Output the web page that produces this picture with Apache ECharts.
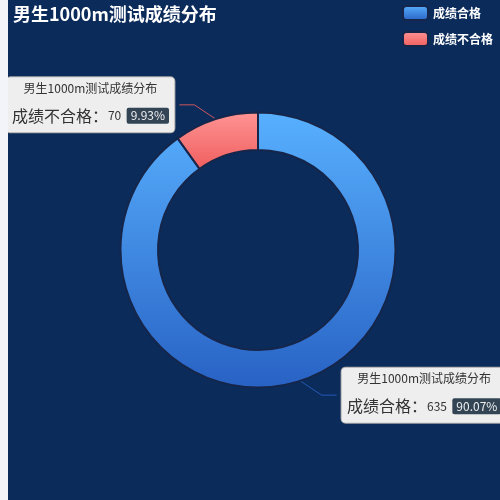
<!DOCTYPE html>
<html>
<head>
<meta charset="utf-8">
<style>
html,body{margin:0;padding:0;background:#f2f4f9;overflow:hidden;}
#chart{position:absolute;left:8px;top:0;width:500px;height:500px;background:#0b2b5b;}
</style>
<script src="https://cdn.jsdelivr.net/npm/echarts@6/dist/echarts.min.js"></script>
</head>
<body>
<div id="chart"></div>
<script>
const titleText = '男生1000m测试成绩分布';
const seriesName = '男生1000m测试成绩分布';
const categories = ['成绩合格', '成绩不合格'];
const values = [635, 70];
const colorStops = [
  ['#58b0ff', '#2862c4'],
  ['#ff9494', '#f05e5e']
];

const chart = echarts.init(document.getElementById('chart'));
const LINE_LEN = 15, LINE_LEN2 = 15, LABEL_GAP = 5, OUTER = 0.55;

const data = categories.map((name, i) => ({
  name: name,
  value: values[i],
  itemStyle: {
    color: new echarts.graphic.LinearGradient(0, 0, 0, 1, [
      { offset: 0, color: colorStops[i][0] },
      { offset: 1, color: colorStops[i][1] }
    ])
  },
  labelLine: { lineStyle: { color: colorStops[i][1], opacity: 0.85 } }
}));

chart.setOption({
  backgroundColor: '#0b2b5b',
  title: {
    text: titleText,
    left: 0,
    top: 0,
    padding: 5,
    textStyle: { color: '#fff', fontSize: 18, fontWeight: 'bold', fontFamily: 'Noto Sans CJK SC' }
  },
  legend: {
    orient: 'vertical',
    right: 10,
    top: 0,
    itemWidth: 25,
    itemHeight: 14,
    itemGap: 10,
    data: categories,
    textStyle: { color: '#fff', fontSize: 12, fontWeight: 'bold', fontFamily: 'Noto Sans CJK SC' }
  },
  series: [{
    name: seriesName,
    type: 'pie',
    radius: ['40%', '55%'],
    center: ['50%', '50%'],
    startAngle: 90,
    avoidLabelOverlap: false,
    itemStyle: { borderColor: '#15264a', borderWidth: 2 },
    labelLine: { length: LINE_LEN, length2: LINE_LEN2 },
    labelLayout: function (params) {
      const pts = params.labelLinePoints;
      if (!pts) return {};
      const cx = chart.getWidth() / 2, cy = chart.getHeight() / 2;
      const r = Math.min(chart.getWidth(), chart.getHeight()) / 2 * OUTER;
      const p0 = pts[0];
      const ux = (p0[0] - cx) / r, uy = (p0[1] - cy) / r;
      const dir = ux < 0 ? -1 : 1;
      const y = cy + (r + LINE_LEN) * uy;
      const deltaY = Math.abs(y - cy);
      const R = r + LINE_LEN + LINE_LEN2;
      const deltaX = Math.sqrt(Math.max(R * R - deltaY * deltaY, 0));
      const labelX = cx + dir * deltaX;
      const lineEnd = labelX - dir * LABEL_GAP;
      const mid = lineEnd - dir * LINE_LEN2;
      return {
        x: labelX,
        y: y,
        align: dir < 0 ? 'right' : 'left',
        verticalAlign: 'middle',
        labelLinePoints: [[p0[0], p0[1]], [mid, y], [lineEnd, y]]
      };
    },
    label: {
      formatter: '{a|{a}}\n  {b|{b}：}{c}  {per|{d}%}  ',
      backgroundColor: '#eee',
      borderColor: '#aaa',
      borderWidth: 1,
      borderRadius: 4,
      color: '#333',
      fontFamily: 'Noto Sans CJK SC',
      fontSize: 12,
      rich: {
        a: { color: '#333', lineHeight: 22, align: 'center', fontSize: 12, fontFamily: 'Noto Sans CJK SC' },
        b: { fontSize: 16, lineHeight: 33, color: '#333', fontFamily: 'Noto Sans CJK SC' },
        per: { color: '#eee', backgroundColor: '#334455', padding: [2, 4], borderRadius: 2, fontSize: 12, fontFamily: 'Noto Sans CJK SC' }
      }
    },
    data: data
  }]
});
</script>
</body>
</html>
